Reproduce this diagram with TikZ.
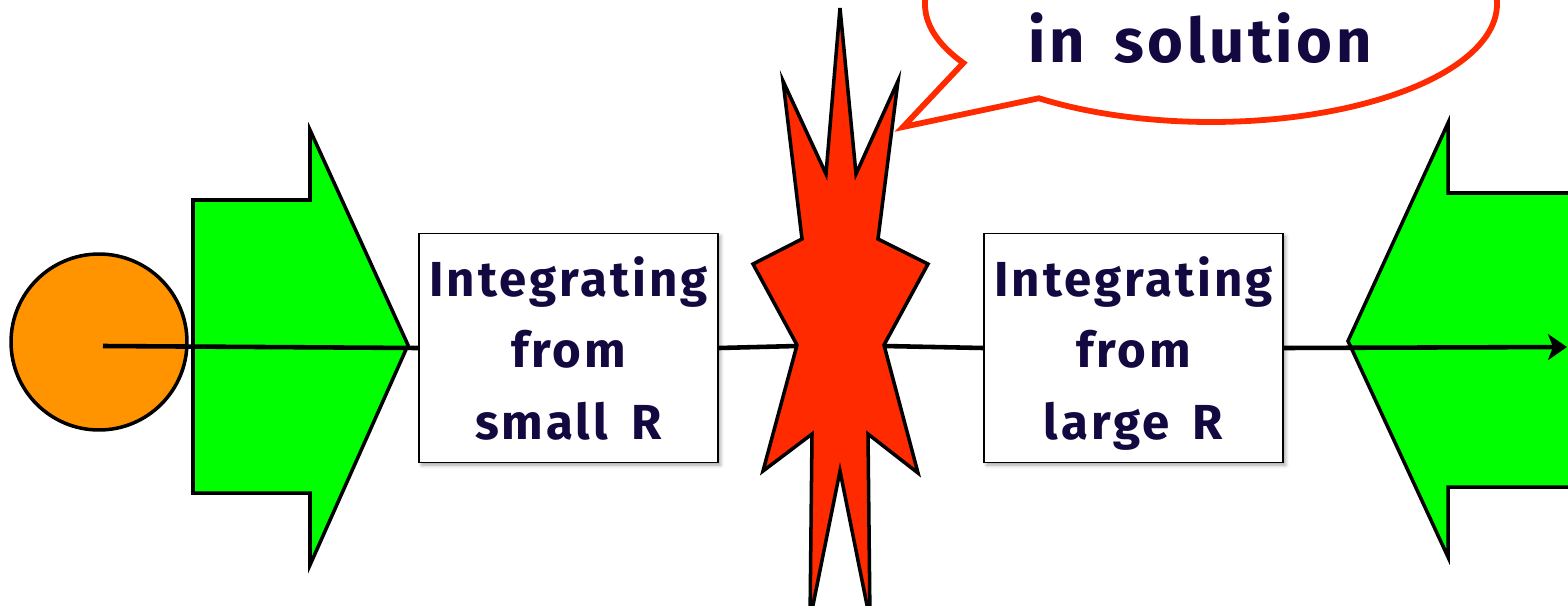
\documentclass[tikz,border=0pt]{standalone}
\usepackage{fontspec}
\setmainfont{Fira Sans}
\newfontfamily\chalkfont{Fira Sans}[LetterSpace=6, WordSpace=1.6]
\usepackage{tikz}
\usetikzlibrary{arrows.meta, shadows.blur}
\usepackage{xcolor}
\definecolor{inkblue}{RGB}{20,8,64}
\definecolor{discorange}{RGB}{255,148,0}
\definecolor{burstred}{RGB}{255,42,0}
\definecolor{arrowgreen}{RGB}{0,255,0}

\begin{document}
\begin{tikzpicture}[x=0.02cm, y=-0.02cm,
    outline/.style={draw=black, line width=2pt, line join=miter},
    integbox/.style={draw=black, line width=1.1pt, fill=white, minimum width=5.98cm, minimum height=4.58cm,
        align=center, text=inkblue, text depth=0pt, font=\chalkfont\fontsize{28}{40.5}\selectfont\bfseries,
        blur shadow={shadow xshift=1.5pt, shadow yshift=-1.5pt, shadow blur radius=2pt, shadow opacity=35}},
    speech/.style={draw=burstred, line width=3.3pt, fill=white, line join=miter},
    wire/.style={line width=2.6pt}]
    \useasboundingbox (0,0) rectangle (1568,605);
    \clip (0,0) rectangle (1568,605);

    % Source disc and the two big arrows
    \node[outline, fill=discorange, circle, minimum size=3.52cm, inner sep=0pt] (source) at (99,342) {};
    \draw[outline, fill=arrowgreen] (193,200) -- (310,200) -- (310,130) -- (408,345) -- (310,565) -- (310,493) -- (193,493) -- cycle;
    \draw[outline, fill=arrowgreen] (1620,193) -- (1448,193) -- (1448,123) -- (1348,341) -- (1448,557) -- (1448,487) -- (1620,487) -- cycle;

    % Burst in the middle
    \draw[outline, fill=burstred] (840,8) -- (856,174) -- (898,81) -- (878,239) -- (928,264) -- (884,345)
        -- (918,473) -- (868,434) -- (870,620) -- (840,471) -- (810,620) -- (812,434) -- (763,471)
        -- (797,345) -- (753,264) -- (802,239) -- (783,81) -- (826,174) -- cycle;
    \coordinate (burstL) at (797,346);
    \coordinate (burstR) at (884,346);

    % Integration boxes
    \node[integbox] (smallR) at (568.5,348) {Integrating\\from\\small R};
    \node[integbox] (largeR) at (1133.5,348) {Integrating\\from\\large R};

    % Speech bubble
    \coordinate (bubble) at (1211,4);
    \draw[speech] (bubble) ++(150:286 and 118) arc[start angle=150, end angle=487, x radius=286, y radius=118]
        -- (903,127) -- cycle;
    \node[anchor=base, text=inkblue, font=\chalkfont\fontsize{35}{40}\selectfont\bfseries] (remark) at (1200,62) {in solution};

    % Connecting line
    \coordinate (origin) at (103,346);
    \coordinate (finish) at (1567,347);
    \draw[wire] (origin) -- (smallR.west);
    \draw[wire] (smallR.east) -- (burstL);
    \draw[wire] (burstR) -- (largeR.west);
    \draw[wire, -{Stealth[length=0.38cm, width=0.52cm, inset=0.1cm]}] (largeR.east) -- (finish);
\end{tikzpicture}
\end{document}
